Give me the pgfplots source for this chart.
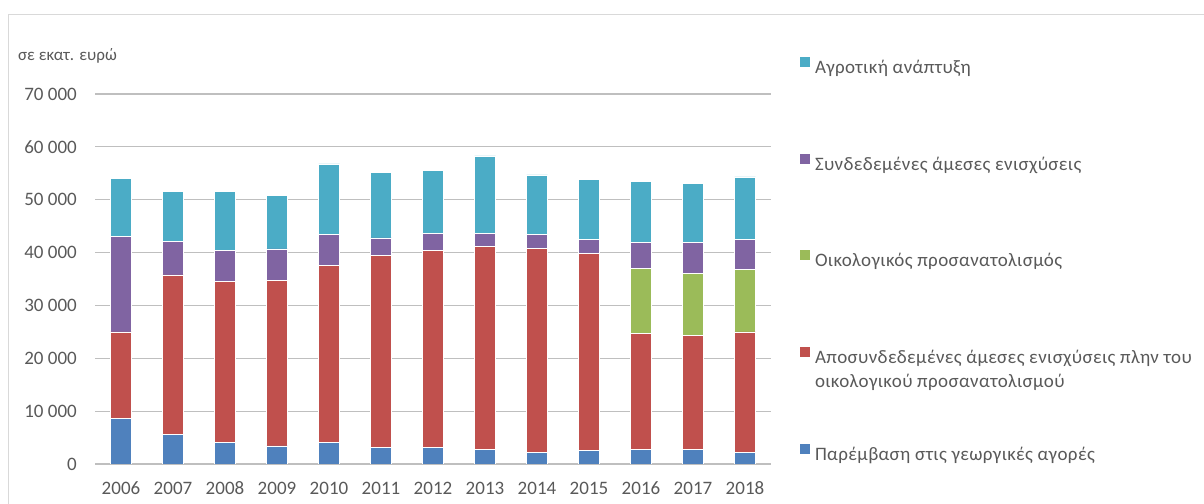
\documentclass[border=0pt]{standalone}
\usepackage{pgfplots}
\pgfplotsset{compat=1.18}
\usepackage{fontspec}
\setmainfont{Carlito}
\newfontfamily\legfont[LetterSpace=2]{Carlito}
\definecolor{cBlue}{HTML}{4F81BD}
\definecolor{cRed}{HTML}{C0504D}
\definecolor{cGreen}{HTML}{9BBB59}
\definecolor{cPurple}{HTML}{8064A2}
\definecolor{cCyan}{HTML}{4BACC6}
\definecolor{txt}{HTML}{595959}
\definecolor{grid}{HTML}{D9D9D9}
\newcommand{\st}{\rule[-5bp]{0pt}{19bp}}
\begin{document}
\begin{tikzpicture}
\path[use as bounding box] (0,0) rectangle (1204bp,504bp);
\draw[grid, line width=1bp] (8.3bp,0) -- (8.3bp,489.5bp) -- (1204bp,489.5bp);
\begin{axis}[
  at={(95bp,40bp)}, anchor=south west,
  scale only axis, width=676bp, height=370bp,
  ybar stacked, bar width=21bp,
  xmin=-0.5, xmax=12.5, ymin=0, ymax=70000,
  scaled y ticks=false,
  xtick={0,...,12},
  xticklabels={2006,2007,2008,2009,2010,2011,2012,2013,2014,2015,2016,2017,2018},
  ytick={0,10000,20000,30000,40000,50000,60000,70000},
  yticklabels={0,10 000,20 000,30 000,40 000,50 000,60 000,70 000},
  major tick length=0pt,
  tick style={draw=none},
  ymajorgrids, xmajorgrids=false, grid style={grid, line width=1.2bp},
  axis line style={draw=none},
  tick label style={font=\fontsize{19bp}{22bp}\selectfont, text=txt, inner sep=0pt},
  xticklabel style={anchor=north, yshift=-17.5bp},
  yticklabel style={anchor=east, xshift=-18bp},
  ylabel={σε εκατ. ευρώ},
  ylabel style={rotate=-90, at={(axis description cs:-0.1139,1.1027)}, anchor=west, font=\fontsize{17bp}{19bp}\selectfont, text=txt, inner sep=0pt},
  every axis plot/.append style={draw=white, line width=0.5bp},
  reverse legend,
  legend cell align=left,
  legend image code/.code={\fill[#1,draw=none] (0bp,0bp) rectangle (10bp,10bp);},
  legend style={at={(rel axis cs:1.0429,1.1)}, anchor=north west,
    draw=none, fill=none, inner sep=0pt, outer sep=0pt,
    row sep=79bp, nodes={inner sep=0pt},
    /tikz/every odd column/.append style={column sep=5bp},
    font=\legfont\fontsize{19bp}{24bp}\selectfont, text=txt},
]
\addplot[fill=cBlue] coordinates {(0,8650) (1,5560) (2,4040) (3,3420) (4,4040) (5,3170) (6,3170) (7,2830) (8,2260) (9,2510) (10,2830) (11,2830) (12,2260)};
\addlegendentry{\st Παρέμβαση στις γεωργικές αγορές}
\addplot[fill=cRed] coordinates {(0,16350) (1,30210) (2,30500) (3,31380) (4,33560) (5,36310) (6,37260) (7,38300) (8,38490) (9,37300) (10,21910) (11,21530) (12,22740)};
\addlegendentry{\st\smash{\begin{tabular}[t]{@{}l@{}}Αποσυνδεδεμένες άμεσες ενισχύσεις πλην του\\οικολογικού προσανατολισμού\end{tabular}}}
\addplot[fill=cGreen] coordinates {(0,0) (1,0) (2,0) (3,0) (4,0) (5,0) (6,0) (7,0) (8,0) (9,0) (10,12260) (11,11740) (12,11760)};
\addlegendentry{\st Οικολογικός προσανατολισμός}
\addplot[fill=cPurple] coordinates {(0,18100) (1,6390) (2,5830) (3,5880) (4,5870) (5,3320) (6,3270) (7,2570) (8,2690) (9,2710) (10,4910) (11,5810) (12,5760)};
\addlegendentry{\st Συνδεδεμένες άμεσες ενισχύσεις}
\addplot[fill=cCyan] coordinates {(0,11000) (1,9460) (2,11250) (3,10070) (4,13320) (5,12440) (6,11850) (7,14610) (8,11240) (9,11310) (10,11520) (11,11210) (12,11810)};
\addlegendentry{\st Αγροτική ανάπτυξη}
\end{axis}
\end{tikzpicture}
\end{document}
